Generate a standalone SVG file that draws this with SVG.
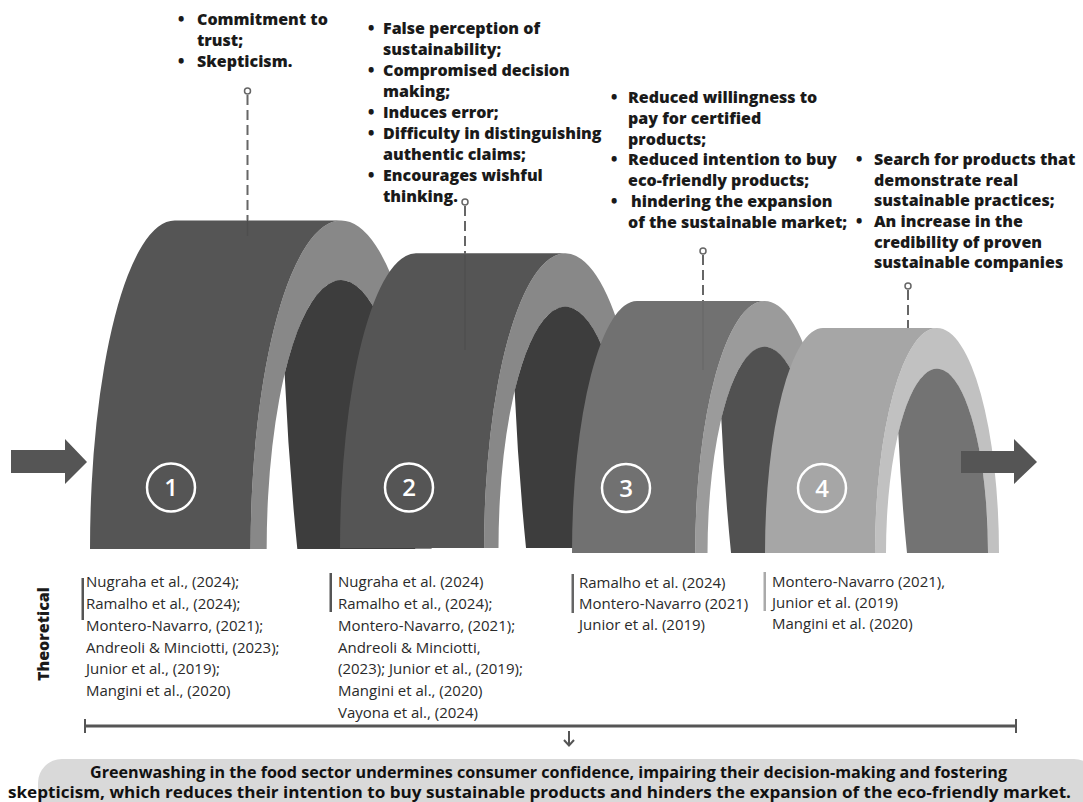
<svg xmlns="http://www.w3.org/2000/svg" width="1083" height="802" viewBox="0 0 1083 802">
<defs>
<style>
.hd{font-family:"Open Sans","Liberation Sans",sans-serif;font-weight:800;font-size:16px;fill:#1a1a1a}
.ct{font-family:"Open Sans","Liberation Sans",sans-serif;font-weight:400;font-size:15px;fill:#2a2a2a}
.num{font-family:"Open Sans","Liberation Sans",sans-serif;font-weight:600;font-size:24px;fill:#ffffff;text-anchor:middle}
.ring{fill:none;stroke:#ffffff;stroke-width:2.5}
.dash{stroke:#666666;stroke-width:2;stroke-dasharray:10 5;fill:none}
.pin{fill:#ffffff;stroke:#666666;stroke-width:1.5}
.arrow{fill:#555555}
.bot{font-family:"Open Sans","Liberation Sans",sans-serif;font-weight:700;font-size:16px;fill:#111111}
</style>
<path id="band" d="M110,0 A62,225 0 0 1 234,0 L223,0 A51,184 0 0 0 121,0 Z"/>
<path id="wall" d="M142,0 Q136,-60 133.3,-120 A51,184 0 0 1 223,0 Z"/>
<path id="face" d="M0,0 A58,225 0 0 1 58,-225 L172,-225 A62,225 0 0 0 110,0 Z"/>
</defs>
<rect width="1083" height="802" fill="#ffffff"/>

<g id="arrow-in"><path class="arrow" d="M11,450 H65 V439 L87,462 L65,484 V473 H11 Z"/></g>

<g id="stage1" transform="translate(90,549) scale(1.46)">
<use href="#band" fill="#888888"/>
<use href="#wall" fill="#3d3d3d"/>
<use href="#face" fill="#555555"/>
</g>
<g id="stage2" transform="translate(340,548) scale(1.31)">
<use href="#band" fill="#888888"/>
<use href="#wall" fill="#3d3d3d"/>
<use href="#face" fill="#555555"/>
</g>
<g id="stage3" transform="translate(572,553) scale(1.12)">
<use href="#band" fill="#9b9b9b"/>
<use href="#wall" fill="#515151"/>
<use href="#face" fill="#717171"/>
</g>
<g id="stage4" transform="translate(765,553)">
<use href="#band" fill="#c1c1c1"/>
<use href="#wall" fill="#737373"/>
<use href="#face" fill="#a6a6a6"/>
</g>

<g id="arrow-out"><path class="arrow" d="M961,451 H1014 V439 L1037,462 L1014,484 V473 H961 Z"/></g>

<g id="numbers">
<circle class="ring" cx="171" cy="487.5" r="24"/><text class="num" x="171" y="496">1</text>
<circle class="ring" cx="409" cy="487.5" r="24"/><text class="num" x="409" y="496">2</text>
<circle class="ring" cx="626" cy="488" r="24"/><text class="num" x="626" y="496.5">3</text>
<circle class="ring" cx="822" cy="488" r="24"/><text class="num" x="822" y="496.5">4</text>
</g>

<g id="connectors">
<line x1="247.5" y1="220" x2="247.5" y2="236" stroke="#4e4e4e" stroke-width="1.5"/>
<line x1="465" y1="255" x2="465" y2="350" stroke="#4f4f4f" stroke-width="1.5"/>
<line x1="703" y1="302" x2="703" y2="370" stroke="#6a6a6a" stroke-width="1.5"/>
<line class="dash" x1="247.5" y1="95" x2="247.5" y2="220"/>
<circle class="pin" cx="247.5" cy="91" r="3"/>
<line class="dash" x1="465" y1="206" x2="465" y2="254"/>
<circle class="pin" cx="465" cy="202" r="3"/>
<line class="dash" x1="703" y1="255" x2="703" y2="301"/>
<circle class="pin" cx="703" cy="251" r="3"/>
<line class="dash" x1="908" y1="290" x2="908" y2="328"/>
<circle class="pin" cx="908" cy="286" r="3"/>
</g>

<g id="effects1">
<text class="hd" x="178" y="25">•</text><text class="hd" x="197" y="25">Commitment to</text>
<text class="hd" x="197" y="46">trust;</text>
<text class="hd" x="178" y="67">•</text><text class="hd" x="197" y="67">Skepticism.</text>
</g>
<g id="effects2">
<text class="hd" x="368" y="34">•</text><text class="hd" x="383" y="34">False perception of</text>
<text class="hd" x="383" y="55">sustainability;</text>
<text class="hd" x="368" y="76">•</text><text class="hd" x="383" y="76">Compromised decision</text>
<text class="hd" x="383" y="97">making;</text>
<text class="hd" x="368" y="118">•</text><text class="hd" x="383" y="118">Induces error;</text>
<text class="hd" x="368" y="139">•</text><text class="hd" x="383" y="139">Difficulty in distinguishing</text>
<text class="hd" x="383" y="160">authentic claims;</text>
<text class="hd" x="368" y="181">•</text><text class="hd" x="383" y="181">Encourages wishful</text>
<text class="hd" x="383" y="202">thinking.</text>
</g>
<g id="effects3">
<text class="hd" x="611" y="103">•</text><text class="hd" x="628" y="103">Reduced willingness to</text>
<text class="hd" x="628" y="124">pay for certified</text>
<text class="hd" x="628" y="145">products;</text>
<text class="hd" x="611" y="165">•</text><text class="hd" x="628" y="165">Reduced intention to buy</text>
<text class="hd" x="628" y="186">eco-friendly products;</text>
<text class="hd" x="611" y="207">•</text><text class="hd" x="631" y="207">hindering the expansion</text>
<text class="hd" x="628" y="228">of the sustainable market;</text>
</g>
<g id="effects4">
<text class="hd" x="856" y="165">•</text><text class="hd" x="874" y="165">Search for products that</text>
<text class="hd" x="874" y="186">demonstrate real</text>
<text class="hd" x="874" y="206">sustainable practices;</text>
<text class="hd" x="856" y="227">•</text><text class="hd" x="874" y="227">An increase in the</text>
<text class="hd" x="874" y="248">credibility of proven</text>
<text class="hd" x="874" y="268">sustainable companies</text>
</g>

<g id="theoretical">
<text class="hd" transform="translate(49,634) rotate(-90)" text-anchor="middle" font-size="16.5">Theoretical</text>
</g>

<g id="refs1">
<rect x="81.5" y="578" width="2.5" height="42" fill="#555555"/>
<text class="ct" x="86" y="587">Nugraha et al., (2024);</text>
<text class="ct" x="86" y="609">Ramalho et al., (2024);</text>
<text class="ct" x="86" y="631">Montero-Navarro, (2021);</text>
<text class="ct" x="86" y="652.5">Andreoli &amp; Minciotti, (2023);</text>
<text class="ct" x="86" y="674">Junior et al., (2019);</text>
<text class="ct" x="86" y="696">Mangini et al., (2020)</text>
</g>
<g id="refs2">
<rect x="329.5" y="573" width="2.5" height="39" fill="#555555"/>
<text class="ct" x="338" y="587">Nugraha et al. (2024)</text>
<text class="ct" x="338" y="609">Ramalho et al., (2024);</text>
<text class="ct" x="338" y="631">Montero-Navarro, (2021);</text>
<text class="ct" x="338" y="652.5">Andreoli &amp; Minciotti,</text>
<text class="ct" x="338" y="674">(2023); Junior et al., (2019);</text>
<text class="ct" x="338" y="696">Mangini et al., (2020)</text>
<text class="ct" x="338" y="718">Vayona et al., (2024)</text>
</g>
<g id="refs3">
<rect x="571.5" y="574" width="2.5" height="39" fill="#666666"/>
<text class="ct" x="579" y="588">Ramalho et al. (2024)</text>
<text class="ct" x="579" y="609">Montero-Navarro (2021)</text>
<text class="ct" x="579" y="630">Junior et al. (2019)</text>
</g>
<g id="refs4">
<rect x="763.5" y="572" width="2.5" height="39" fill="#aaaaaa"/>
<text class="ct" x="772" y="587">Montero-Navarro (2021),</text>
<text class="ct" x="772" y="608">Junior et al. (2019)</text>
<text class="ct" x="772" y="629">Mangini et al. (2020)</text>
</g>

<g id="timeline">
<line x1="85" y1="726" x2="1016" y2="726" stroke="#555555" stroke-width="3"/>
<line x1="85" y1="719" x2="85" y2="733" stroke="#555555" stroke-width="2"/>
<line x1="1016" y1="719" x2="1016" y2="733" stroke="#555555" stroke-width="2"/>
<line x1="569" y1="731" x2="569" y2="745" stroke="#555555" stroke-width="2"/>
<path d="M564,740 L569,745.5 L574,740" fill="none" stroke="#555555" stroke-width="2"/>
</g>

<g id="conclusion">
<rect x="38" y="759" width="1060" height="60" rx="24" fill="#d9d9d9"/>
<text class="bot" x="90" y="778" textLength="917" lengthAdjust="spacingAndGlyphs">Greenwashing in the food sector undermines consumer confidence, impairing their decision-making and fostering</text>
<text class="bot" x="8" y="798" textLength="1063" lengthAdjust="spacingAndGlyphs">skepticism, which reduces their intention to buy sustainable products and hinders the expansion of the eco-friendly market.</text>
</g>
</svg>
